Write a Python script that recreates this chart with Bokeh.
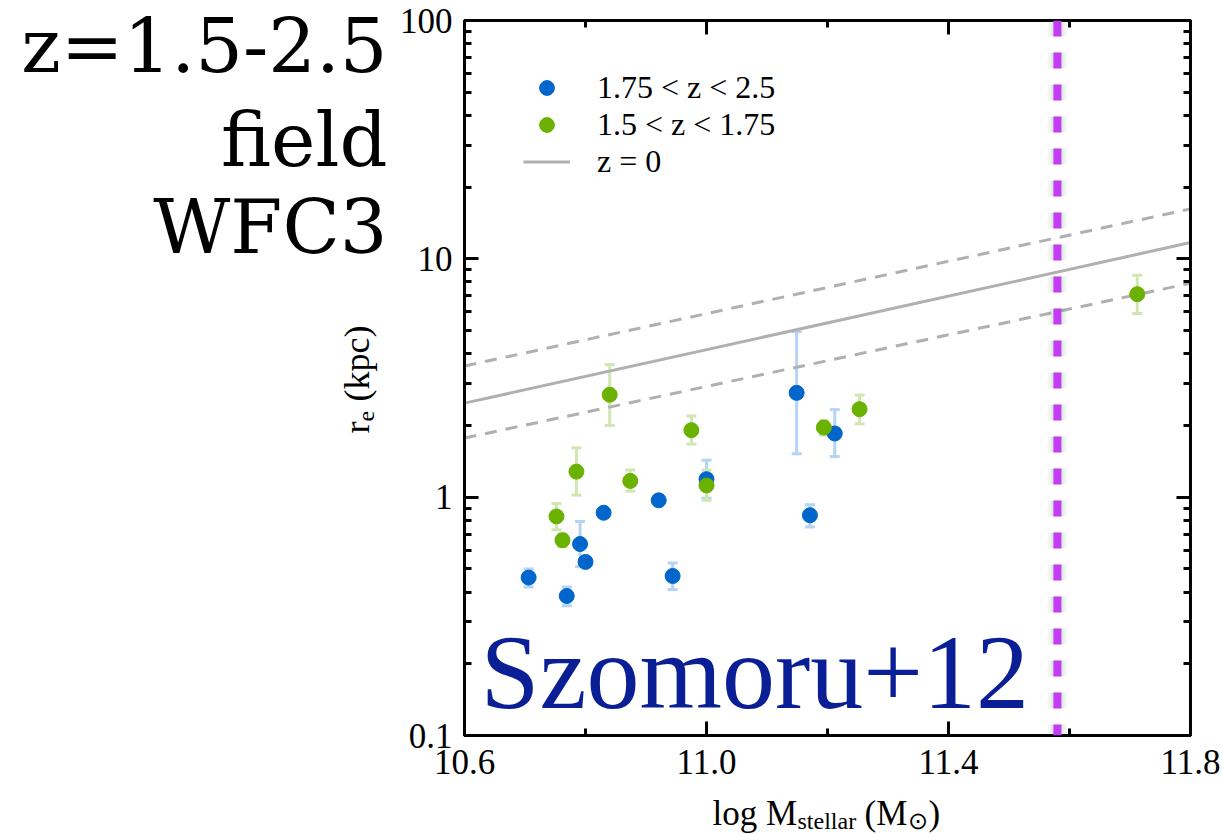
import math
from bokeh.plotting import figure
from bokeh.layouts import row, column
from bokeh.models import (ColumnDataSource, Range1d, FixedTicker, LinearAxis, LogAxis,
                          PrintfTickFormatter, CustomJSTickFormatter, Whisker, TeeHead,
                          Span, Label, Legend, LegendItem)
from bokeh.embed import file_html
from bokeh.resources import INLINE

# ---------------- data ----------------
blue_x = [10.706, 10.769, 10.791, 10.800, 10.830, 10.921, 10.944, 11.000, 11.149, 11.171, 11.212]
blue_y = [0.46, 0.385, 0.636, 0.535, 0.86, 0.97, 0.467, 1.19, 2.74, 0.84, 1.85]
blue_lo = [0.42, 0.35, 0.51, 0.52, 0.84, 0.95, 0.41, 0.99, 1.52, 0.75, 1.48]
blue_hi = [0.50, 0.42, 0.79, 0.55, 0.88, 0.99, 0.53, 1.43, 4.95, 0.93, 2.33]

green_x = [10.752, 10.762, 10.785, 10.840, 10.874, 10.975, 11.000, 11.194, 11.253, 11.712]
green_y = [0.83, 0.66, 1.28, 2.69, 1.17, 1.91, 1.12, 1.96, 2.34, 7.11]
green_lo = [0.73, 0.62, 1.02, 2.00, 1.06, 1.67, 0.97, 1.82, 2.03, 5.89]
green_hi = [0.94, 0.70, 1.61, 3.60, 1.30, 2.19, 1.30, 2.10, 2.68, 8.54]

z0_x = [10.6, 11.8]
z0_y = [2.48, 11.7]
z0_hi = [3.55, 16.2]
z0_lo = [1.77, 7.9]

mass_limit = 11.58

x_major = [10.6, 11.0, 11.4, 11.8]
x_minor = [10.8, 11.2, 11.6]
y_major = [0.1, 1, 10, 100]
y_minor = [0.2, 0.3, 0.4, 0.5, 0.6, 0.7, 0.8, 0.9,
           2, 3, 4, 5, 6, 7, 8, 9,
           20, 30, 40, 50, 60, 70, 80, 90]

legend_labels = ["1.75 < z < 2.5", "1.5 < z < 1.75", "z = 0"]
side_text = ["z=1.5-2.5", "field", "WFC3"]
ref_text = "Szomoru+12"

# ---------------- styles ----------------
BLUE = "#0066cc"
GREEN = "#6ab100"
BLUE_ERR = "#b5d3f3"
GREEN_ERR = "#d1e6b3"
GREY = "#b0b0b0"
PURPLE = "#c03ef0"
NAVY = "#0a1e96"
SERIF = "Liberation Serif"

W, H = 1223, 834
LEFT_W = 390          # width of the left text panel
MAIN_H = 795          # height of the main plot (rest is x title panel)
FL, FB = 464, 735     # frame left / bottom in page pixels
BORDER_L = FL - LEFT_W
BORDER_R = 33

# ---------------- main plot ----------------
p = figure(width=W - LEFT_W, height=MAIN_H, output_backend="svg", toolbar_location=None,
           x_range=Range1d(10.6, 11.8), y_range=Range1d(0.1, 100), y_axis_type="log",
           min_border_left=BORDER_L, min_border_right=BORDER_R, min_border_top=20,
           min_border_bottom=MAIN_H - FB)
p.grid.visible = False
p.outline_line_color = "black"
p.outline_line_width = 3
p.background_fill_color = "white"
p.border_fill_color = "white"

xt = FixedTicker(ticks=x_major, minor_ticks=x_minor)
yt = FixedTicker(ticks=y_major, minor_ticks=y_minor)
yfmt = CustomJSTickFormatter(code="return tick < 1 ? tick.toFixed(1) : tick.toFixed(0);")

def style_axis(ax, labels=True):
    ax.axis_line_width = 3
    ax.axis_line_color = "black"
    ax.major_tick_in = 14
    ax.major_tick_out = 0
    ax.minor_tick_in = 7
    ax.minor_tick_out = 0
    ax.major_tick_line_width = 3
    ax.minor_tick_line_width = 3
    ax.major_tick_line_color = "black"
    ax.minor_tick_line_color = "black"
    if labels:
        ax.major_label_text_font = SERIF
        ax.major_label_text_font_size = "35px"
        ax.major_label_text_color = "black"
    else:
        ax.major_label_text_font_size = "6px"
        ax.major_label_text_alpha = 0
        ax.major_label_standoff = 0

xa = p.xaxis[0]
xa.ticker = xt
xa.formatter = PrintfTickFormatter(format="%.1f")
style_axis(xa)
xa.major_label_standoff = 14

ya = p.yaxis[0]
ya.ticker = yt
ya.formatter = yfmt
style_axis(ya)
ya.major_label_standoff = 12

top = LinearAxis(ticker=FixedTicker(ticks=x_major, minor_ticks=x_minor))
style_axis(top, labels=False)
p.add_layout(top, "above")
right = LogAxis(ticker=FixedTicker(ticks=y_major, minor_ticks=y_minor))
style_axis(right, labels=False)
p.add_layout(right, "right")

# z=0 relation
l0 = p.line(z0_x, z0_y, line_color=GREY, line_width=3)
p.line(z0_x, z0_hi, line_color=GREY, line_width=3, line_dash="12 9")
p.line(z0_x, z0_lo, line_color=GREY, line_width=3, line_dash="12 9")

# purple mass limit with soft glow
p.add_layout(Span(location=mass_limit, dimension="height", line_color="#808080",
                  line_alpha=0.10, line_width=18, line_dash="16 16"))
p.add_layout(Span(location=mass_limit, dimension="height", line_color="#808080",
                  line_alpha=0.12, line_width=12, line_dash="16 16"))
p.add_layout(Span(location=mass_limit, dimension="height", line_color=PURPLE,
                  line_width=8, line_dash="16 16"))

# error bars
bsrc = ColumnDataSource(dict(x=blue_x, y=blue_y, lo=blue_lo, hi=blue_hi))
gsrc = ColumnDataSource(dict(x=green_x, y=green_y, lo=green_lo, hi=green_hi))
for src, c in ((bsrc, BLUE_ERR), (gsrc, GREEN_ERR)):
    w = Whisker(source=src, base="x", lower="lo", upper="hi", dimension="height",
                line_color=c, line_width=3,
                upper_head=TeeHead(size=10, line_color=c, line_width=3),
                lower_head=TeeHead(size=10, line_color=c, line_width=3))
    p.add_layout(w)

rb = p.scatter("x", "y", source=bsrc, size=15, fill_color=BLUE, line_color=BLUE)
rg = p.scatter("x", "y", source=gsrc, size=15, fill_color=GREEN, line_color=GREEN)

legend = Legend(items=[LegendItem(label=legend_labels[0], renderers=[rb]),
                       LegendItem(label=legend_labels[1], renderers=[rg]),
                       LegendItem(label=legend_labels[2], renderers=[l0])],
                location=(59, 555), orientation="vertical",
                padding=0, margin=0, spacing=0,
                glyph_width=47, glyph_height=37, label_height=37, label_standoff=27,
                label_text_font=SERIF, label_text_font_size="32px", label_text_color="black",
                background_fill_alpha=0, border_line_alpha=0)
p.add_layout(legend)

# reference label inside the frame (page pixels -> frame screen units)
p.add_layout(Label(x=480 - FL, y=FB - 672, x_units="screen", y_units="screen", text=ref_text,
                   text_font=SERIF, text_font_size="106px", text_color=NAVY,
                   text_align="left", text_baseline="middle"))


# ---------------- text panels ----------------
def panel(width, height, bl=0, br=0):
    f = figure(width=width, height=height, output_backend="svg", toolbar_location=None,
               x_axis_location=None, y_axis_location=None,
               x_range=Range1d(0, 1), y_range=Range1d(0, 1),
               min_border=0, min_border_left=bl, min_border_right=br,
               min_border_top=0, min_border_bottom=0)
    f.grid.visible = False
    f.outline_line_color = None
    f.background_fill_color = "white"
    f.border_fill_color = "white"
    return f

def lab(f, ox, oy_bottom, x, y, t, size, font=SERIF, color="black", align="left", angle=0.0):
    # x, y in page pixels (top-left origin); ox = frame left, oy_bottom = frame bottom (page)
    f.add_layout(Label(x=x - ox, y=oy_bottom - y, x_units="screen", y_units="screen", text=t,
                       text_font=font, text_font_size=size, text_color=color,
                       text_align=align, text_baseline="middle", angle=angle))

pl = panel(LEFT_W, H)
for t, c in zip(side_text, [45, 139, 226]):
    lab(pl, 0, H, 387, c, t, "75px", font="DejaVu Serif", align="right")
# y axis title: r_e (kpc), rotated
lab(pl, 0, H, 356, 433, "r", "36px", angle=math.pi / 2)
lab(pl, 0, H, 366, 421, "e", "24px", angle=math.pi / 2)
lab(pl, 0, H, 356, 401, "(kpc)", "36px", angle=math.pi / 2)

# bottom panel, its frame aligned with the main frame (left at FL)
pb = panel(W - LEFT_W, H - MAIN_H, bl=BORDER_L, br=BORDER_R)
# x axis title: log M_stellar (M_sun)
lab(pb, FL, H, 712, 813, "log M", "35px")
lab(pb, FL, H, 797, 820, "stellar", "24px")
lab(pb, FL, H, 864, 813, "(M", "35px")
lab(pb, FL, H, 907, 820, "\u2299", "24px")
lab(pb, FL, H, 928, 813, ")", "35px")

layout = row(pl, column(p, pb, spacing=0), spacing=0)

open("out.html", "w").write(file_html(layout, INLINE))
